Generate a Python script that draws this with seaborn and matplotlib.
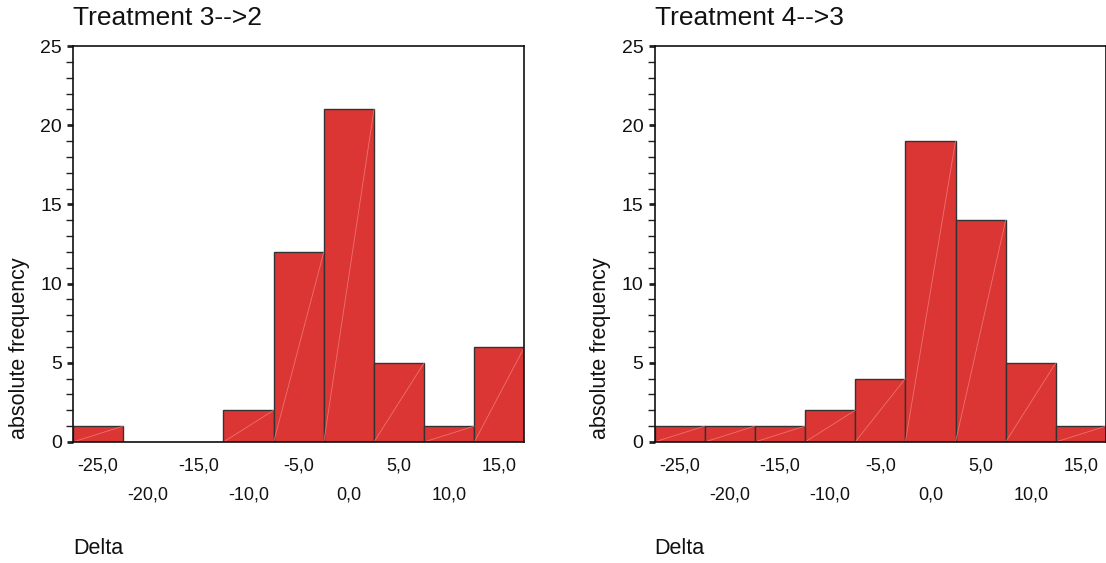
import pandas as pd
import matplotlib
matplotlib.use('Agg')
import matplotlib.pyplot as plt
import seaborn as sns
from matplotlib.ticker import MultipleLocator

# Klassenmitten und Häufigkeiten
centers = [-25, -20, -15, -10, -5, 0, 5, 10, 15]
counts_3_2 = [1, 0, 0, 2, 12, 21, 5, 1, 6]
counts_4_3 = [1, 1, 1, 2, 4, 19, 14, 5, 1]
titles = ['Treatment 3-->2', 'Treatment 4-->3']
y_ticks = [0, 5, 10, 15, 20, 25]

sns.set_style('white')
plt.rcParams['font.family'] = ['Liberation Sans', 'DejaVu Sans']
plt.rcParams['text.color'] = '#111111'
plt.rcParams['xtick.labelcolor'] = '#111111'
plt.rcParams['ytick.labelcolor'] = '#111111'

bar_color = '#dc3634'
x_min, x_max = -27.5, 17.5

fig, axes = plt.subplots(1, 2, figsize=(11.06, 5.63), dpi=100)
plt.subplots_adjust(left=0.066, right=1.0, bottom=0.215, top=0.918, wspace=0.288)

for ax, counts, title in zip(axes, [counts_3_2, counts_4_3], titles):
    df = pd.DataFrame({'Delta': centers, 'n': counts})
    sns.histplot(data=df, x='Delta', weights='n', binwidth=5, binrange=(x_min, x_max),
                 ax=ax, color=bar_color, alpha=1, edgecolor='#333333', linewidth=1)
    # schwache Diagonale in jedem Balken (wie im SPSS-Export)
    for p in list(ax.patches):
        if p.get_height() > 0:
            x0, y0 = p.get_x(), p.get_y()
            ax.plot([x0, x0 + p.get_width()], [y0, y0 + p.get_height()],
                    color='#f08080', lw=0.6, alpha=0.8)
    ax.set_xlim(x_min, x_max)
    ax.set_ylim(0, 25)
    ax.set_xticks(centers)
    labels = []
    for i, c in enumerate(centers):
        s = f'{c:.1f}'.replace('.', ',')
        labels.append(s if i % 2 == 0 else '\n' + s)
    ax.set_xticklabels(labels, fontsize=13)
    for lbl in ax.get_xticklabels():
        lbl.set_linespacing(1.95)
    ax.set_yticks(y_ticks)
    ax.set_yticklabels([str(v) for v in y_ticks], fontsize=14)
    ax.yaxis.set_minor_locator(MultipleLocator(1))
    ax.tick_params(axis='x', which='major', direction='out', length=3, width=2,
                   color='#222222', pad=8)
    ax.tick_params(axis='y', which='major', direction='out', length=4, width=2,
                   color='#222222', pad=4, left=True)
    ax.tick_params(axis='y', which='minor', direction='out', length=5, width=1,
                   color='#222222', left=True)
    for sp in ax.spines.values():
        sp.set_visible(True)
        sp.set_color('#111111')
        sp.set_linewidth(1.2)
    ax.set_title(title, loc='left', fontsize=19, pad=15, color='#111111')
    ax.set_ylabel('absolute frequency', fontsize=15.5, color='#111111')
    ax.yaxis.set_label_coords(-0.096, 0.237)
    ax.set_xlabel('Delta', fontsize=15.5, color='#111111')
    ax.xaxis.label.set_ha('left')
    ax.xaxis.label.set_va('center')
    ax.xaxis.set_label_coords(0.0, -0.268)
    ax.grid(False)

plt.savefig('out.png', dpi=100)
